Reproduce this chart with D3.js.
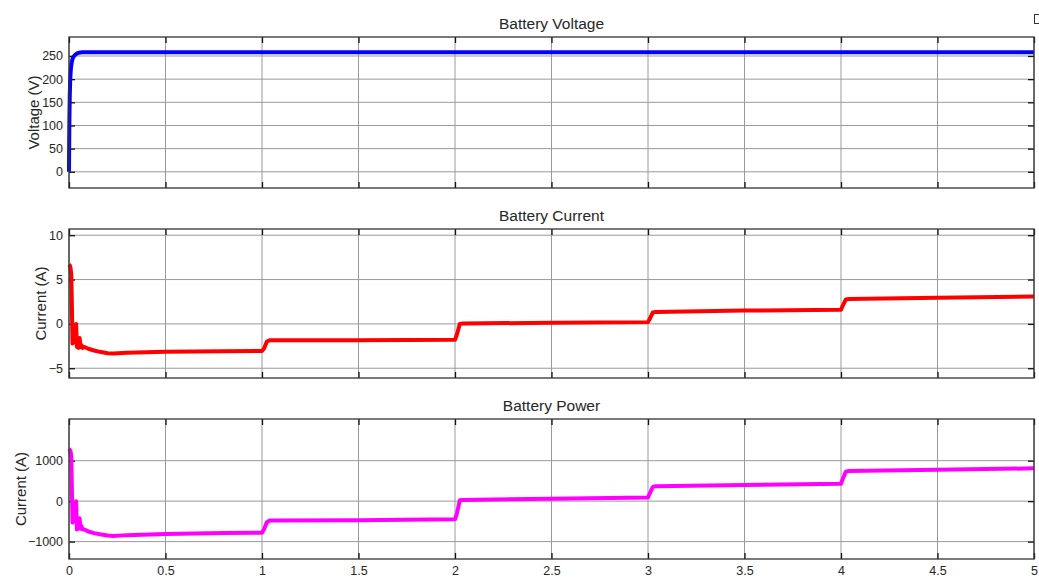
<!DOCTYPE html>
<html>
<head>
<meta charset="utf-8">
<script src="https://cdn.jsdelivr.net/npm/d3@7"></script>
<style>
  body { margin: 0; background: #fff; }
  text { font-family: "Liberation Sans", Arial, sans-serif; fill: #262626; }
  .grid line { stroke: #9a9a9a; stroke-width: 1; }
  .box { fill: none; stroke: #333; stroke-width: 1.3; }
  .tick line { stroke: #111; stroke-width: 1.3; }
  .domain { display: none; }
</style>
</head>
<body>
<svg id="svg"></svg>
<script>
// DATA
var tVolt = [0, 0.001, 0.002, 0.004, 0.006, 0.008, 0.01, 0.015, 0.02, 0.03, 0.04, 0.05, 0.07, 0.1, 1, 2, 3, 4, 5];
var volt  = [0, 60, 110, 165, 195, 212, 224, 238, 246, 252, 255, 257, 258, 258, 258, 258, 258, 258, 258];

var tCurr = [0, 0.004, 0.008, 0.012, 0.015, 0.018, 0.021, 0.025, 0.029, 0.033, 0.037, 0.041, 0.045, 0.05, 0.055, 0.06, 0.065, 0.07, 0.08, 0.1, 0.13, 0.16, 0.2, 0.23, 0.3, 0.5, 0.8, 1.0, 1.01, 1.025, 1.04, 1.5, 2.0, 2.01, 2.025, 2.04, 2.5, 3.0, 3.01, 3.025, 3.04, 3.5, 4.0, 4.01, 4.025, 4.04, 4.5, 5.0];
var curr  = [6.7, 6.6, 6.3, 5.5, 2.0, -2.2, -1.2, -2.1, -0.6, -2.0, 0.0, -2.6, -2.2, -2.7, -1.6, -2.6, -2.4, -2.7, -2.6, -2.8, -3.0, -3.15, -3.3, -3.35, -3.25, -3.15, -3.08, -3.05, -2.8, -2.0, -1.85, -1.83, -1.8, -1.2, 0.0, 0.05, 0.12, 0.2, 0.6, 1.3, 1.35, 1.5, 1.6, 2.1, 2.75, 2.8, 2.95, 3.1];

var tPow = tCurr;
var pow  = [1290, 1270, 1230, 1100, 300, -530, -250, -500, -150, -480, 0, -700, -560, -680, -420, -680, -620, -700, -700, -750, -790, -820, -850, -860, -840, -810, -790, -780, -700, -520, -480, -470, -450, -300, 20, 30, 60, 90, 200, 350, 370, 400, 430, 560, 730, 745, 775, 810];

var xTicks = [0, 0.5, 1, 1.5, 2, 2.5, 3, 3.5, 4, 4.5, 5];
var vTicks = [0, 50, 100, 150, 200, 250];
var iTicks = [-5, 0, 5, 10];
var pTicks = [-1000, 0, 1000];

var panels = [
  { title: "Battery Voltage", ylabel: "Voltage (V)", t: tVolt, y: volt, ticks: vTicks,
    domain: [-35, 291], top: 37, bottom: 188, color: "#0000ff", labelX: 34, xlabels: false },
  { title: "Battery Current", ylabel: "Current (A)", t: tCurr, y: curr, ticks: iTicks,
    domain: [-6.1, 10.7], top: 229, bottom: 378, color: "#ff0000", labelX: 41, xlabels: false },
  { title: "Battery Power", ylabel: "Current (A)", t: tPow, y: pow, ticks: pTicks,
    domain: [-1430, 2030], top: 419, bottom: 559, color: "#ff00ff", labelX: 21, xlabels: true }
];

var left = 69, right = 1034;

svg = d3.select("#svg")
          .attr("width", 1039)
          .attr("height", 581);

var x = d3.scaleLinear().domain([0, 5]).range([left, right]);

panels.forEach(function(p){
  var y = d3.scaleLinear().domain(p.domain).range([p.bottom, p.top]);
  var g = svg.append("g");

  // grid
  var grid = g.append("g").attr("class", "grid");
  grid.selectAll(".gx").data(xTicks).enter().append("line")
      .attr("x1", d => x(d)).attr("x2", d => x(d))
      .attr("y1", p.top).attr("y2", p.bottom);
  grid.selectAll(".gy").data(p.ticks).enter().append("line")
      .attr("x1", left).attr("x2", right)
      .attr("y1", d => y(d)).attr("y2", d => y(d));

  // axes with inward ticks on every side
  g.append("g").attr("transform", "translate(0," + p.bottom + ")")
    .call(d3.axisBottom(x).tickValues(xTicks).tickSize(-6).tickPadding(7)
          .tickFormat(p.xlabels ? d3.format("") : ""))
    .selectAll("text").style("font-size", "12.5px");
  g.append("g").attr("transform", "translate(0," + p.top + ")")
    .call(d3.axisTop(x).tickValues(xTicks).tickSize(-6).tickFormat(""));
  g.append("g").attr("transform", "translate(" + left + ",0)")
    .call(d3.axisLeft(y).tickValues(p.ticks).tickSize(-6).tickPadding(6).tickFormat(d3.format("")))
    .selectAll("text").style("font-size", "12.5px");
  g.append("g").attr("transform", "translate(" + right + ",0)")
    .call(d3.axisRight(y).tickValues(p.ticks).tickSize(-6).tickFormat(""));

  g.selectAll(".tick text").style("fill", "#262626");

  // series
  var line = d3.line().x(d => x(d[0])).y(d => y(d[1]));
  g.append("path")
    .datum(p.t.map((t, i) => [t, p.y[i]]))
    .attr("d", line)
    .attr("fill", "none")
    .attr("stroke", p.color)
    .attr("stroke-width", 4)
    .attr("stroke-linejoin", "round");

  g.append("rect").attr("class", "box")
    .attr("x", left).attr("y", p.top)
    .attr("width", right - left).attr("height", p.bottom - p.top);

  g.append("text")
    .attr("x", (left + right) / 2).attr("y", p.top - 8)
    .attr("text-anchor", "middle")
    .style("font-size", "15.5px")
    .text(p.title);

  g.append("text")
    .attr("transform", "translate(" + p.labelX + "," + ((p.top + p.bottom) / 2) + ") rotate(-90)")
    .attr("text-anchor", "middle")
    .attr("dy", "0.35em")
    .style("font-size", "15px")
    .text(p.ylabel);
});

// clipped toolbar glyph in the top right corner
svg.append("rect").attr("x", 1034.5).attr("y", 14.5).attr("width", 8).attr("height", 9)
  .attr("fill", "none").attr("stroke", "#333");
</script>
</body>
</html>
